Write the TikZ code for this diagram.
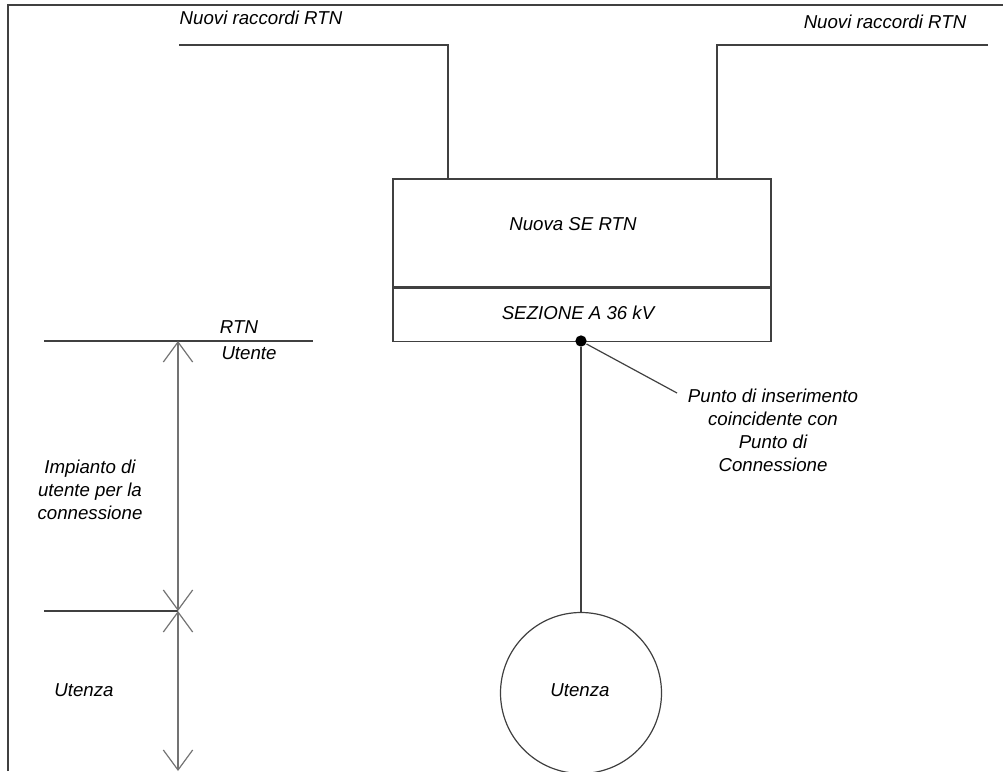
\documentclass[tikz,border=0pt]{standalone}
\usepackage{fontspec}
\setmainfont{Liberation Sans}
\usetikzlibrary{arrows.meta}
\usetikzlibrary{positioning}

\begin{document}
\begin{tikzpicture}[x=.75pt, y=-.75pt, line width=.9pt,
    font=\itshape\fontsize{14}{17.25}\selectfont,
    wire/.style={draw=black!75},
    dim/.style={draw=black!55, {Straight Barb[length=15pt,width=22pt]}-{Straight Barb[length=15pt,width=22pt]}},
    lbl/.style={inner sep=0pt, align=center}]
            \useasboundingbox (0,0) rectangle (1003,771);
            \draw[wire] (8,771) -- (8,5) -- (1003,5);
            \node[wire, minimum width=283.5pt, minimum height=81pt, inner sep=0pt] (se) at (582,233) {};
            \node[wire, minimum width=283.5pt, minimum height=39.75pt, inner sep=0pt, below=0pt of se] (sez) {};
            \node[lbl] (seT) at (573,224) {Nuova SE RTN};
            \node[lbl] (sezT) at (578,313) {SEZIONE A 36 kV};
            \coordinate (rl) at (179,45);
            \coordinate (rr) at (988,45);
            \node[lbl] (raccL) at (261,18) {Nuovi raccordi RTN};
            \node[lbl] (raccR) at (885,22) {Nuovi raccordi RTN};
            \draw[wire] (rl) -| (448,0 |- se.north);
            \draw[wire] (rr) -| (717,0 |- se.north);
            \node[wire, circle, minimum size=120.75pt, inner sep=0pt] (utenza) at (581,693) {};
            \node[lbl] (utenzaT) at (580,690) {Utenza};
            \node[circle, fill=black, minimum size=8.5pt, inner sep=0pt] (dot) at (581,341) {};
            \draw[wire] (dot) -- (utenza.north);
            \coordinate (pl) at (677,393);
            \node[lbl] (punto) at (773,430) {Punto di inserimento\\coincidente con\\Punto di\\Connessione};
            \draw[wire] (dot) -- (pl);
            \coordinate (confA) at (44,341);
            \coordinate (confB) at (313,341);
            \coordinate (rtn) at (178,341);
            \coordinate (mid) at (178,611);
            \coordinate (midL) at (44,611);
            \coordinate (bot) at (178,771);
            \draw[wire] (confA) -- (confB);
            \draw[wire] (midL) -- (mid);
            \node[lbl] (rtnT) at (239,327) {RTN};
            \node[lbl] (utenteT) at (249,353) {Utente};
            \draw[dim] (rtn) -- (mid);
            \draw[dim] (mid) -- (bot);
            \node[lbl] (impianto) at (90,490) {Impianto di\\utente per la\\connessione};
            \node[lbl] (utenzaL) at (84,690) {Utenza};
        \end{tikzpicture}
\end{document}
